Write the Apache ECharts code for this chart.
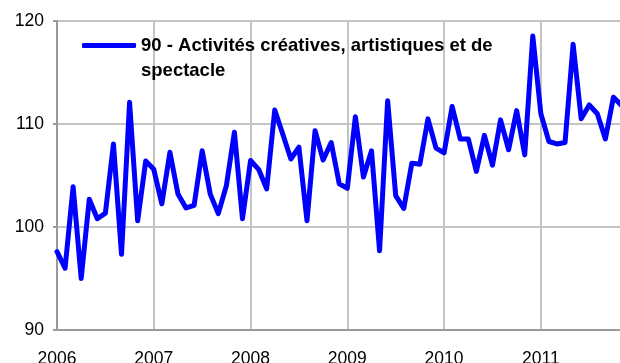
<!DOCTYPE html>
<html>
<head>
<meta charset="utf-8">
<script src="https://cdn.jsdelivr.net/npm/echarts@6/dist/echarts.min.js"></script>
<style>
html,body{margin:0;padding:0;background:#fff;}
#c{width:620px;height:363px;}
</style>
</head>
<body>
<div id="c"></div>
<script>
const years = ['2006','2007','2008','2009','2010','2011'];
const yTicks = [90, 100, 110, 120];
const seriesName = '90 - Activités créatives, artistiques et de spectacle';
const v2006 = [97.6, 96.0, 103.9, 95.0, 102.7, 100.8, 101.35, 108.06, 97.35, 112.1, 100.6, 106.4];
const v2007 = [105.6, 102.25, 107.25, 103.2, 101.85, 102.1, 107.4, 103.2, 101.3, 104.0, 109.2, 100.8];
const v2008 = [106.45, 105.6, 103.7, 111.35, 109.0, 106.6, 107.75, 100.6, 109.35, 106.5, 108.2, 104.2];
const v2009 = [103.75, 110.7, 104.85, 107.4, 97.7, 112.25, 103.05, 101.8, 106.2, 106.1, 110.5, 107.65];
const v2010 = [107.2, 111.7, 108.55, 108.55, 105.4, 108.9, 106.0, 110.4, 107.5, 111.3, 107.0, 118.55];
const v2011 = [111.0, 108.3, 108.06, 108.2, 117.75, 110.5, 111.85, 111.0, 108.55, 112.6, 111.8];

const yearly = [v2006, v2007, v2008, v2009, v2010, v2011];
const categories = [];
const values = [];
yearly.forEach((arr, yi) => {
  arr.forEach((v, mi) => {
    categories.push(years[yi] + '-' + String(mi + 1).padStart(2, '0'));
    values.push(v);
  });
});

const FONT = '"Liberation Sans", Arial, sans-serif';
const chart = echarts.init(document.getElementById('c'), null, {renderer: 'canvas'});
const isYearStart = (idx) => idx % 12 === 0;

chart.setOption({
  animation: false,
  backgroundColor: '#fff',
  grid: {left: 57, right: -1.5, top: 21, bottom: 33, containLabel: false, outerBoundsMode: 'none'},
  legend: {
    show: true,
    left: 82,
    top: 8,
    padding: 0,
    itemWidth: 54,
    itemHeight: 5,
    icon: 'roundRect',
    data: [seriesName],
    formatter: () => '\n90 - Activités créatives, artistiques et de\nspectacle',
    textStyle: {
      fontFamily: FONT, fontSize: 18.5, fontWeight: 'bold', color: '#000',
      lineHeight: 25
    }
  },
  xAxis: {
    type: 'category',
    data: categories,
    boundaryGap: false,
    axisLine: {show: true, lineStyle: {color: '#9a9a9a', width: 2}},
    axisTick: {show: false},
    axisLabel: {
      interval: (idx) => isYearStart(idx),
      formatter: (val) => val.slice(0, 4),
      fontFamily: FONT, fontSize: 17.5, color: '#000', margin: 20
    },
    splitLine: {
      show: true,
      interval: (idx) => isYearStart(idx),
      lineStyle: {color: '#c4c4c4', width: 2}
    }
  },
  yAxis: {
    type: 'value',
    min: yTicks[0],
    max: yTicks[yTicks.length - 1],
    interval: 10,
    axisLine: {show: true, lineStyle: {color: '#9a9a9a', width: 2}},
    axisTick: {show: true, length: 4, lineStyle: {color: '#9a9a9a', width: 2}},
    axisLabel: {fontFamily: FONT, fontSize: 17.5, color: '#000', margin: 13},
    splitLine: {show: true, lineStyle: {color: '#c4c4c4', width: 2}}
  },
  series: [{
    name: seriesName,
    type: 'line',
    data: values,
    showSymbol: false,
    symbol: 'none',
    clip: true,
    lineStyle: {color: '#0000ff', width: 5, join: 'round', cap: 'round'},
    itemStyle: {color: '#0000ff'}
  }]
});
</script>
</body>
</html>
